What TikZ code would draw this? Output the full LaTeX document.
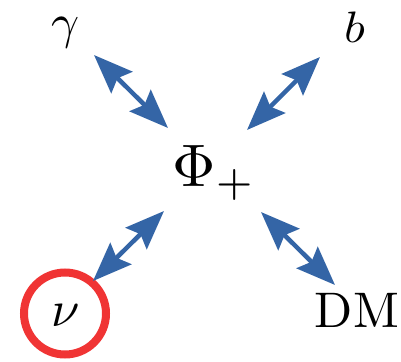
\documentclass[tikz,border=0pt]{standalone}
\usetikzlibrary{arrows.meta}
\definecolor{arrblue}{RGB}{52,101,166}
\definecolor{ringred}{RGB}{240,52,52}
\begin{document}
\begin{tikzpicture}[x=1pt,y=-1pt,
  arr/.style={draw=arrblue,line width=4.5pt,
    {Stealth[length=39pt,width=30pt,inset=6pt,fill=arrblue]}-{Stealth[length=39pt,width=30pt,inset=6pt,fill=arrblue]}},
  lbl/.style={inner sep=0pt,outer sep=0pt}]
\useasboundingbox (0,0) rectangle (401,361);
\node[lbl,scale=4.9] (gamma) at (66,33) {$\gamma$};
\node[lbl,scale=4.4,xscale=1.1] (b) at (354.5,27.5) {$b$};
\node[lbl,scale=6.0,anchor=base] (phi) at (214,186) {$\Phi_+$};
\node[lbl,scale=5.1] (nu) at (66,316) {$\nu$};
\node[lbl,scale=5.0] (dm) at (357,310) {$\mathrm{DM}$};
\draw[ringred,line width=8pt] (65,313.5) circle (41);
\coordinate (g1) at (94,55);  \coordinate (g2) at (168,128);
\coordinate (b1) at (320,57); \coordinate (b2) at (247,130);
\coordinate (n1) at (93,281); \coordinate (n2) at (164,211);
\coordinate (d1) at (335,285); \coordinate (d2) at (261,212);
\draw[arr] (g1) -- (g2);
\draw[arr] (b1) -- (b2);
\draw[arr] (n1) -- (n2);
\draw[arr] (d1) -- (d2);
\end{tikzpicture}
\end{document}
